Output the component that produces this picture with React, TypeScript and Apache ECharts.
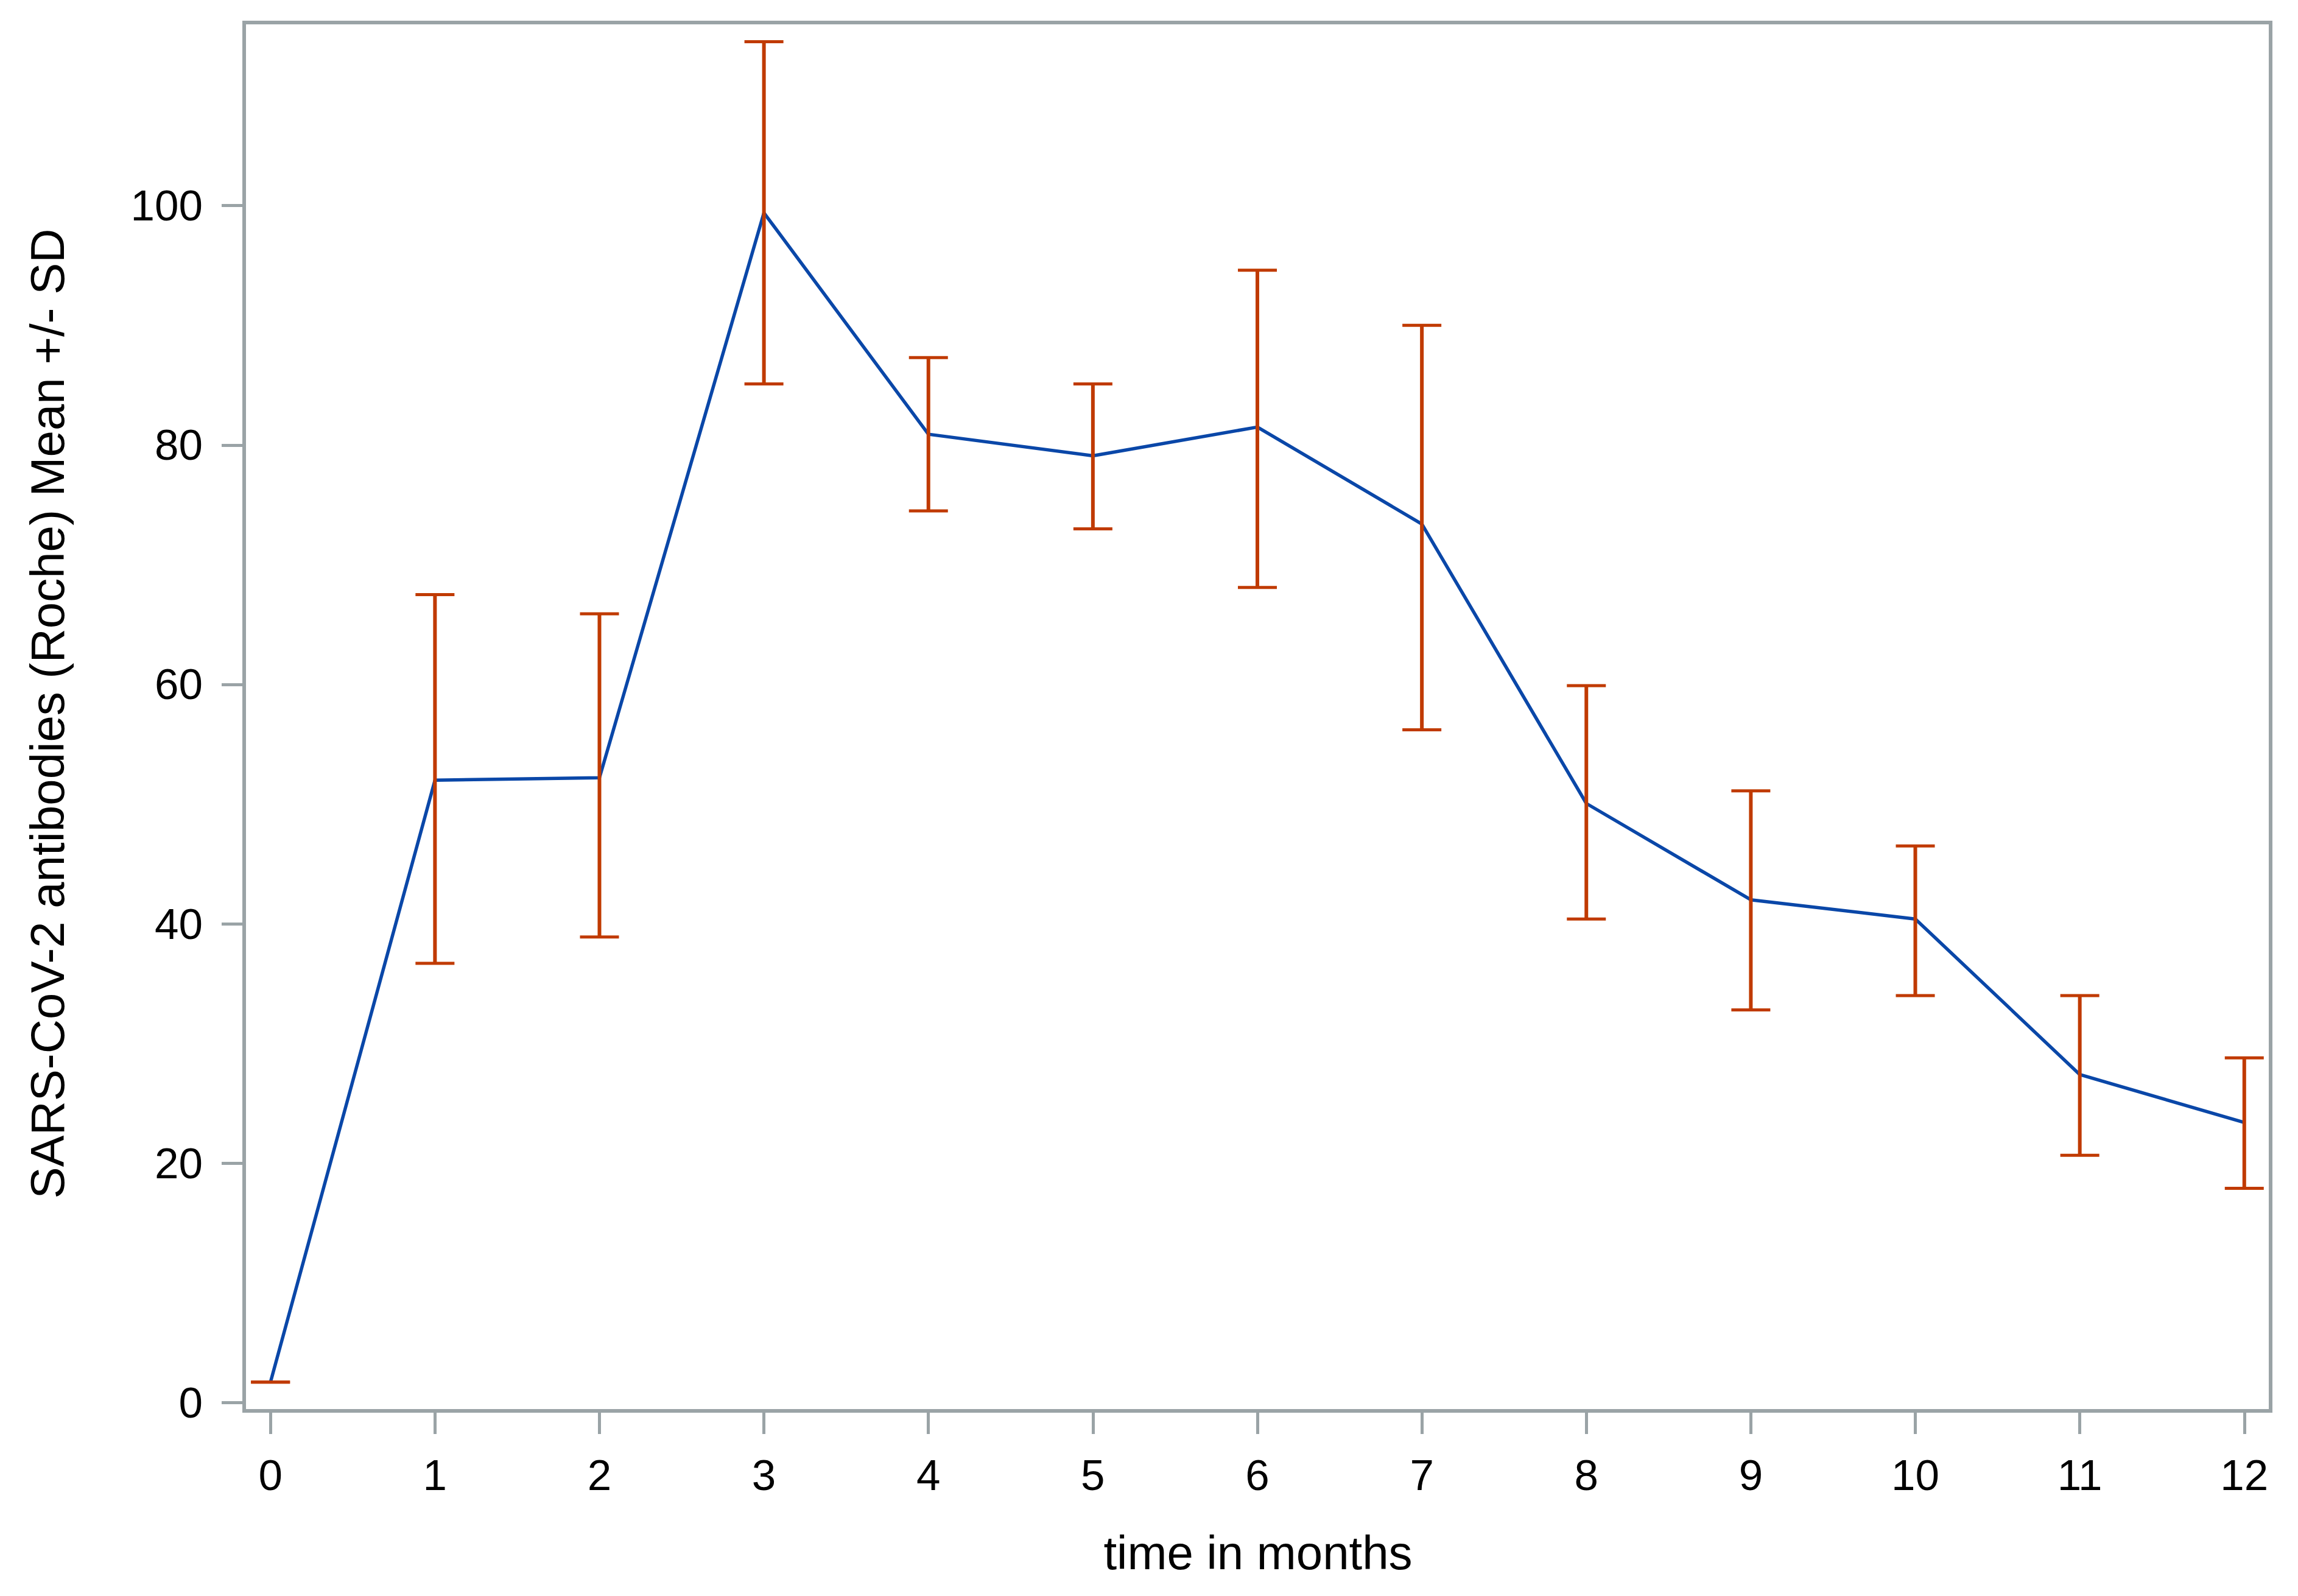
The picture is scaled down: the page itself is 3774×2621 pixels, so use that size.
import React, { useEffect, useRef } from "react";
import * as echarts from "echarts";

const months = [0, 1, 2, 3, 4, 5, 6, 7, 8, 9, 10, 11, 12];
const means = [1.7, 52.0, 52.2, 99.4, 80.9, 79.1, 81.5, 73.4, 50.05, 42.0, 40.4, 27.4, 23.4];
const upper = [1.7, 67.5, 65.9, 113.7, 87.3, 85.1, 94.6, 90.0, 59.9, 51.1, 46.5, 34.0, 28.8];
const lower = [1.7, 36.7, 38.9, 85.1, 74.5, 73.0, 68.1, 56.2, 40.4, 32.8, 34.0, 20.65, 17.9];
const yTicks = [0, 20, 40, 60, 80, 100];
const xTicks = [0, 1, 2, 3, 4, 5, 6, 7, 8, 9, 10, 11, 12];
const xTitle = "time in months";
const yTitle = "SARS-CoV-2 antibodies (Roche) Mean +/- SD";

const FONT = "'Liberation Sans', Arial, Helvetica, sans-serif";
const FRAME = "#9aa3a6";
const LINE = "#0a47a8";
const ERR = "#c03a00";

export default function App() {
  const ref = useRef<HTMLDivElement>(null);
  useEffect(() => {
    if (!ref.current) return;
    const chart = echarts.init(ref.current, undefined, { renderer: "svg" });
    const lineData = months.map((m, i) => [m, means[i]]);
    const errData = months.map((m, i) => [m, lower[i], upper[i]]);
    chart.setOption({
      animation: false,
      backgroundColor: "#ffffff",
      grid: {
        left: 401,
        right: 3774 - 3729,
        top: 37,
        bottom: 2621 - 2317,
        show: true,
        borderColor: FRAME,
        borderWidth: 6,
        backgroundColor: "transparent",
      },
      xAxis: {
        type: "value",
        min: -0.16,
        max: 12.16,
        splitLine: { show: false },
        axisLine: { show: false, onZero: false },
        axisTick: {
          show: true,
          length: 38,
          inside: false,
          customValues: xTicks,
          lineStyle: { color: FRAME, width: 5 },
        },
        axisLabel: {
          customValues: xTicks,
          margin: 70,
          fontSize: 71,
          color: "#000000",
          fontFamily: FONT,
          verticalAlign: "top",
        },
      },
      yAxis: {
        type: "value",
        min: -0.7,
        max: 115.3,
        splitLine: { show: false },
        axisLine: { show: false, onZero: false },
        axisTick: {
          show: true,
          length: 37,
          inside: false,
          customValues: yTicks,
          lineStyle: { color: FRAME, width: 5 },
        },
        axisLabel: {
          customValues: yTicks,
          margin: 68,
          fontSize: 71,
          color: "#000000",
          fontFamily: FONT,
        },
      },
      graphic: [
        {
          type: "text",
          x: 2066,
          y: 2550,
          style: {
            text: xTitle,
            fontSize: 78,
            fontFamily: FONT,
            fill: "#000000",
            align: "center",
            verticalAlign: "middle",
          },
        },
        {
          type: "text",
          x: 78,
          y: 1172,
          rotation: Math.PI / 2,
          style: {
            text: yTitle,
            fontSize: 78,
            fontFamily: FONT,
            fill: "#000000",
            align: "center",
            verticalAlign: "middle",
          },
        },
      ],
      series: [
        {
          type: "line",
          data: lineData,
          showSymbol: false,
          symbol: "none",
          lineStyle: { color: LINE, width: 5.5 },
          z: 2,
        },
        {
          type: "custom",
          data: errData,
          encode: { x: 0, y: [1, 2] },
          z: 3,
          renderItem: (params: any, api: any) => {
            const x = api.value(0);
            const lo = api.coord([x, api.value(1)]);
            const hi = api.coord([x, api.value(2)]);
            const hw = 32;
            const style = { stroke: ERR, lineWidth: 6 };
            const capStyle = { stroke: ERR, lineWidth: 5 };
            return {
              type: "group",
              children: [
                { type: "line", shape: { x1: lo[0], y1: lo[1], x2: hi[0], y2: hi[1] }, style },
                { type: "line", shape: { x1: hi[0] - hw, y1: hi[1], x2: hi[0] + hw, y2: hi[1] }, style: capStyle },
                { type: "line", shape: { x1: lo[0] - hw, y1: lo[1], x2: lo[0] + hw, y2: lo[1] }, style: capStyle },
              ],
            };
          },
        },
      ],
    });
    return () => chart.dispose();
  }, []);
  return (
    <div
      ref={ref}
      style={{ position: "absolute", left: 0, top: 0, width: 3774, height: 2621, background: "#fff" }}
    />
  );
}
